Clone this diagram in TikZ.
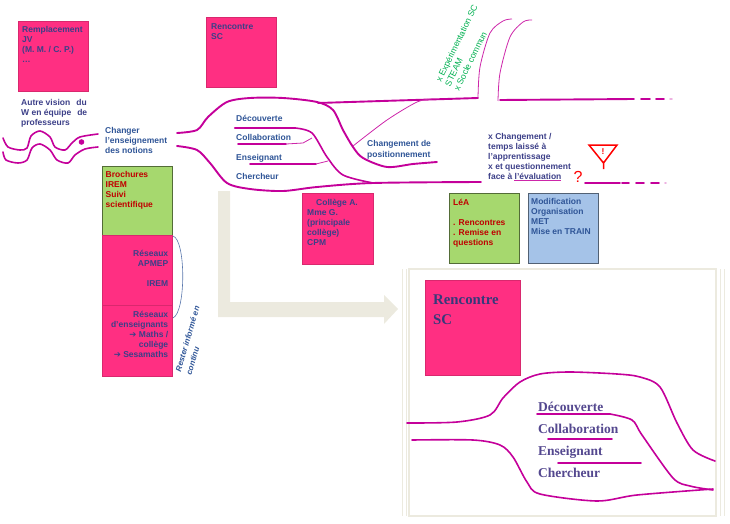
\documentclass[tikz,border=0pt]{standalone}
\usepackage{fontspec}
\usepackage{xcolor}
\setmainfont{Liberation Sans}
\newfontfamily\timesfont{Liberation Serif}
\newfontfamily\symfont{DejaVu Sans}
\usetikzlibrary{positioning}
\definecolor{pinkbox}{HTML}{FF2F82}
\definecolor{greenbox}{HTML}{A6D86E}
\definecolor{bluebox}{HTML}{A5C3E8}
\definecolor{curvecol}{HTML}{C4009A}
\definecolor{navytext}{HTML}{3C3F88}
\definecolor{bluetext}{HTML}{2F5597}
\definecolor{redtext}{HTML}{C00000}
\definecolor{greentext}{HTML}{00B050}
\definecolor{beige}{HTML}{ECEADF}
\definecolor{serifcol}{HTML}{54488F}
\newcommand{\arrowsym}{{\symfont\char"2794}}
\tikzset{
    square/.style={draw,anchor=north west,minimum width=70,minimum height=70,inner sep=0},
    pinknote/.style={square,fill=pinkbox,draw=pinkbox!85!black},
    greennote/.style={square,fill=greenbox,draw=greenbox!50!black},
    bluenote/.style={square,fill=bluebox,draw=bluebox!50!black},
    txt/.style={anchor=north west,inner sep=0,align=left,font=\fontsize{8.5}{10}\selectfont\bfseries},
    navy/.style={txt,text=navytext},
    blu/.style={txt,text=bluetext},
    redt/.style={txt,text=redtext},
    serif/.style={anchor=west,inner sep=0,font=\fontsize{13.5}{16}\selectfont\timesfont\bfseries,text=serifcol},
    thick line/.style={draw=curvecol,line width=1.9pt,line cap=round},
    mid line/.style={draw=curvecol,line width=1.6pt,line cap=round},
    thin line/.style={draw=curvecol!85,line width=0.8pt},
    beigeline/.style={draw=beige,line width=1.6pt}
}
\begin{document}
\begin{tikzpicture}[x=1pt,y=-1pt]
    \useasboundingbox (0,0) rectangle (730,524);

    % notes
    \node[pinknote] (remplacement) at (18,21) {};
    \node[navy,below right=5pt and 4pt of remplacement.north west] (remplacementtxt) {Remplacement\\JV\\(M. M. / C. P.)\\\dots};
    \node[pinknote] (rencontre) at (206,17) {};
    \node[navy,below right=6pt and 5pt of rencontre.north west] (rencontretxt) {Rencontre\\SC};
    \node[greennote,minimum height=69] (brochures) at (101.5,166) {};
    \node[redt,below right=5.5pt and 4pt of brochures.north west] (brochurestxt) {Brochures\\IREM\\Suivi\\scientifique};
    \node[pinknote] (apmep) at (101.5,235) {};
    \node[pinknote,minimum height=71] (enseignants) at (101.5,305) {};
    \node[navy,align=right,below left=15pt and 3.5pt of apmep.north east] (apmeptxt) {Réseaux\\APMEP\\[10.5pt]IREM};
    \node[navy,align=right,below left=6pt and 3.5pt of enseignants.north east] (enseignantstxt) {Réseaux\\d'enseignants\\\arrowsym{} Maths /\\collège\\\arrowsym{} Sesamaths};
    \node[pinknote,minimum width=71,minimum height=71] (college) at (302,193) {};
    \node[navy,below right=6.5pt and 5pt of college.north west] (collegetxt) {\hspace*{9pt}Collège A.\\Mme G.\\(principale\\collège)\\CPM};
    \node[greennote] (lea) at (449,193) {};
    \node[redt,below right=6.5pt and 4pt of lea.north west] (leatxt) {LéA\\[9.5pt]. Rencontres\\. Remise en\\questions};
    \node[bluenote] (modif) at (527.5,193) {};
    \node[blu,below right=5.5pt and 3.5pt of modif.north west] (modiftxt) {Modification\\Organisation\\MET\\Mise en TRAIN};

    % grande fleche et cadre
    \fill[beige] (218,191) -- (230,191) -- (230,302) -- (384,302) -- (384,295) -- (398,309) -- (384,324) -- (384,317) -- (218,317) -- cycle;
    \draw[beigeline] (409,269) rectangle (716,516);
    \draw[beigeline,line width=1pt] (402,269) -- (402,516) (406,269) -- (406,516) (720,269) -- (720,516) (724,269) -- (724,516);
    \node[pinknote,minimum width=95,minimum height=95] (grand) at (425,280) {};
    \node[anchor=west,inner sep=0,align=left,font=\fontsize{14.8}{20}\selectfont\timesfont\bfseries,text=navytext!90!black] (grandtxt) at (433,310) {Rencontre\\SC};

    % textes
    \node[blu,text=navytext] (vision) at (21,99) {Autre vision\hspace{6pt}du\\W en équipe\hspace{6pt}de\\professeurs};
    \node[blu] (changer) at (105,127) {Changer\\l'enseignement\\des notions};
    \node[blu] (decouverte) at (236,115) {Découverte};
    \node[blu] (collaboration) at (236,134) {Collaboration};
    \node[blu] (enseignant) at (236,154) {Enseignant};
    \node[blu] (chercheur) at (236,173) {Chercheur};
    \node[blu,font=\fontsize{8.5}{11}\selectfont\bfseries] (positionnement) at (367,140) {Changement de\\positionnement};
    \node[blu,text=navytext] (temps) at (488,133) {x Changement /\\temps laissé à\\l'apprentissage\\x et questionnement\\face à l'évaluation};
    \node[anchor=north west,inner sep=0,align=left,rotate=64,text=greentext,font=\fontsize{8.7}{10}\selectfont] (socle) at (435,80) {x Expérimentation SC\\STEAM\\x Socle commun};
    \node[anchor=north west,inner sep=0,align=left,rotate=74,text=bluetext,font=\fontsize{8}{11}\selectfont\bfseries\itshape] (reste) at (175,371) {Rester informé en\\continu};
    \node[inner sep=0,text=red,font=\fontsize{16}{16}\selectfont] (question) at (578,177) {?};
    \node[inner sep=0,text=red,font=\fontsize{8.5}{10}\selectfont\bfseries] (exclam) at (603,152) {!};
    \node[serif] (dec) at (538,407) {Découverte};
    \node[serif] (col) at (538,429) {Collaboration};
    \node[serif] (ens) at (538,452) {Enseignant};
    \node[serif] (che) at (538,473) {Chercheur};

    % courbes a gauche
    \draw[mid line] plot[smooth] coordinates {(3,138) (8,147) (20,150) (27,148) (31,136) (40,131) (50,137) (55,147) (65,150) (72,143) (80,137) (98,134)};
    \draw[mid line] plot[smooth] coordinates {(3,152) (6,160) (18,163) (27,160) (32,148) (40,144) (50,150) (57,160) (68,163) (75,155) (85,149) (98,147)};
    \fill[curvecol] (81.5,142) circle (2.8);

    % entonnoir du haut
    \draw[thick line] plot[smooth] coordinates {(177,133) (197,130) (208,117) (227,102) (250,98) (283,98) (317,102) (333,110) (343,130) (353,147) (363,158) (387,167) (413,164) (437,162)};
    \draw[thick line] (318,103) -- (478,98);
    \draw[thin line] plot[smooth] coordinates {(353,146) (387,120) (417,102) (432,99)};
    \draw[thin line] plot[smooth] coordinates {(478,98) (480,67) (490,33) (503,21) (512,19)};
    \draw[thin line] plot[smooth] coordinates {(498,101) (500,73) (510,37) (523,22) (532,20)};
    \draw[thick line] (500,100) -- (634,99) (641,99) -- (650,99) (656,99) -- (664,99);
    \draw[thick line,draw=curvecol!30] (670,99) -- (672,99);

    % entonnoir du bas
    \draw[thick line] plot[smooth] coordinates {(177,146) (197,150) (210,163) (227,183) (250,189) (283,191) (317,187) (373,183) (481,182)};
    \draw[thick line] (585,183) -- (620,183) (622,183) -- (629,183) (636,183) -- (644,183) (651,183) -- (659,183);
    \draw[thick line,draw=curvecol!30] (665,183) -- (666,183);
    \draw[thick line,line width=2.2pt] (235,128) -- (295,128);
    \draw[mid line] plot[smooth] coordinates {(295,128) (312,133) (327,157) (343,175) (373,183)};
    \draw[mid line] (238,144) -- (286,144);
    \draw[thin line] (286,144) -- (303,143) -- (312,138);
    \draw[mid line] (250,164) -- (316,164);
    \draw[thin line] (316,164) -- (328,161);
    \draw[thin line,line width=0.9pt] (514,180) -- (561,180);

    % accolade
    \draw[draw=bluetext!80,line width=0.6pt] (173,236) .. controls (186,240) and (186,312) .. (173,318);

    % triangle
    \draw[red,line width=1.5pt] (589,145) -- (617,145) -- (603.5,163) -- cycle (603.5,163) -- (603.5,169);

    % dans le cadre
    \draw[mid line] plot[smooth] coordinates {(407,423) (457,422) (490,415) (503,398) (520,382) (540,374) (570,372) (617,374) (640,377) (660,387) (677,423) (693,450) (715,461)};
    \draw[mid line] plot[smooth] coordinates {(412,440) (473,440) (500,445) (513,457) (527,482) (540,494) (597,501) (637,495) (713,489)};
    \draw[mid line] (537,414) -- (610,414);
    \draw[mid line] plot[smooth] coordinates {(610,414) (632,420) (642,435) (673,478) (690,486) (713,490)};
    \draw[mid line] (548,439) -- (612,439);
    \draw[mid line] (558,463) -- (641,463);
\end{tikzpicture}
\end{document}
